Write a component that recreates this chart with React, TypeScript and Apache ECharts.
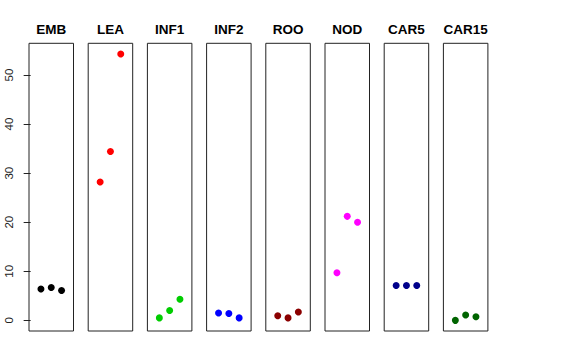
import React, { useEffect, useRef } from "react";
import * as echarts from "echarts";

const panelNames = ["EMB", "LEA", "INF1", "INF2", "ROO", "NOD", "CAR5", "CAR15"];
const panelColors = ["#000000", "#FF0000", "#00CD00", "#0000FF", "#8B0000", "#FF00FF", "#00008B", "#006400"];
const xPositions = [1, 2, 3];
const EMB = [6.4, 6.7, 6.1];
const LEA = [28.2, 34.4, 54.3];
const INF1 = [0.5, 2.0, 4.3];
const INF2 = [1.5, 1.4, 0.5];
const ROO = [0.95, 0.5, 1.7];
const NOD = [9.7, 21.2, 20.0];
const CAR5 = [7.1, 7.1, 7.1];
const CAR15 = [0.0, 1.1, 0.75];
const panelValues = [EMB, LEA, INF1, INF2, ROO, NOD, CAR5, CAR15];
const yTicks = [0, 10, 20, 30, 40, 50];

export default function App() {
  const ref = useRef<HTMLDivElement>(null);
  useEffect(() => {
    if (!ref.current) return;
    const chart = echarts.init(ref.current, null, { renderer: "svg" });
    const all = panelValues.flat();
    const dMin = Math.min(...all);
    const dMax = Math.max(...all);
    const ext = (dMax - dMin) * 0.04;
    const yMin = dMin - ext;
    const yMax = dMax + ext;
    const xMin = 0 - 4 * 0.04;
    const xMax = 4 + 4 * 0.04;

    const left0 = 29;
    const step = 59.2;
    const width = 44.5;
    const top = 43.3;
    const height = 287.7;

    const grids: any[] = [];
    const xAxes: any[] = [];
    const yAxes: any[] = [];
    const series: any[] = [];
    const graphics: any[] = [];
    panelNames.forEach((name, i) => {
      const left = left0 + i * step;
      grids.push({
        left,
        top,
        width,
        height,
        show: true,
        borderColor: "#222",
        borderWidth: 1,
        backgroundColor: "transparent",
        containLabel: false,
      });
      xAxes.push({
        type: "value",
        gridIndex: i,
        min: xMin,
        max: xMax,
        show: false,
      });
      yAxes.push({
        type: "value",
        gridIndex: i,
        min: yMin,
        max: yMax,
        show: i === 0,
        splitLine: { show: false },
        axisLine: { show: false },
        axisTick: {
          show: i === 0,
          length: 7,
          customValues: yTicks,
          lineStyle: { color: "#222", width: 1 },
        },
        axisLabel: {
          show: i === 0,
          customValues: yTicks,
          rotate: 90,
          margin: 14,
          fontSize: 11.5,
          color: "#222",
          fontFamily: "Liberation Sans",
        },
      });
      series.push({
        type: "scatter",
        xAxisIndex: i,
        yAxisIndex: i,
        symbol: "circle",
        symbolSize: 7,
        itemStyle: { color: panelColors[i], opacity: 1 },
        data: xPositions.map((x, j) => [x, panelValues[i][j]]),
      });
      graphics.push({
        type: "text",
        x: left + width / 2,
        y: 29.3,
        style: {
          text: name,
          fontSize: 13.5,
          fontWeight: "bold",
          fontFamily: "Liberation Sans",
          fill: "#000",
          textAlign: "center",
          textVerticalAlign: "middle",
        },
      });
    });

    chart.setOption({
      animation: false,
      backgroundColor: "#fff",
      grid: grids,
      xAxis: xAxes,
      yAxis: yAxes,
      series,
      graphic: graphics,
    });
    return () => chart.dispose();
  }, []);
  return (
    <div
      ref={ref}
      style={{ position: "fixed", left: 0, top: 0, width: 576, height: 360 }}
    />
  );
}
